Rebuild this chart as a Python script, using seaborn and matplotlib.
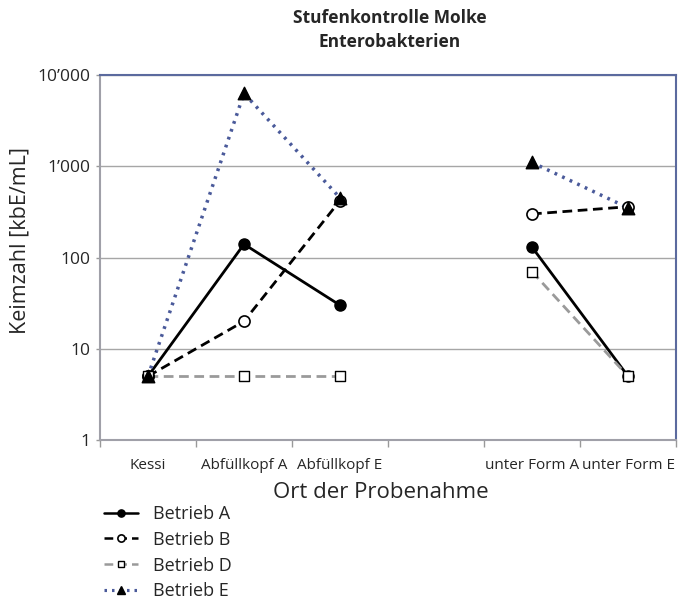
import numpy as np
import pandas as pd
import seaborn as sns
import matplotlib
matplotlib.use("Agg")
import matplotlib.pyplot as plt
from matplotlib.lines import Line2D
from matplotlib.ticker import FixedLocator, FixedFormatter, NullLocator

# Sampling points (slot 4 is an empty spacer between the two groups)
categories = ["Kessi", "Abfüllkopf A", "Abfüllkopf E", "", "unter Form A", "unter Form E"]

# Counts per sampling point (NaN = not sampled)
betrieb_a = [5, 140, 30, np.nan, 130, 5]
betrieb_b = [5, 20, 420, np.nan, 300, 360]
betrieb_d = [5, 5, 5, np.nan, 70, 5]
betrieb_e = [5, 6300, 450, np.nan, 1100, 350]

series_names = ["Betrieb A", "Betrieb B", "Betrieb D", "Betrieb E"]
series_values = [betrieb_a, betrieb_b, betrieb_d, betrieb_e]

y_ticks = [1, 10, 100, 1000, 10000]
y_tick_labels = ["1", "10", "100", "1\u2019000", "10\u2019000"]

# Line segments: the first three points and the last two are drawn separately
segment_of_slot = [0, 0, 0, 1, 1, 1]

rows = []
for name, vals in zip(series_names, series_values):
    for i, v in enumerate(vals):
        if not np.isnan(v):
            rows.append({"Betrieb": name, "pos": i, "value": v, "seg": segment_of_slot[i]})
df = pd.DataFrame(rows)

styles = {
    "Betrieb A": dict(color="black", ls="-", lw=2.0, marker="o", ms=8,
                      mfc="black", mec="black", mew=1.0),
    "Betrieb B": dict(color="black", ls=(0, (3.5, 2.0)), lw=2.0, marker="o", ms=8,
                      mfc="white", mec="black", mew=1.2),
    "Betrieb D": dict(color="#9a9a9a", ls=(0, (3.5, 2.0)), lw=2.0, marker="s", ms=7,
                      mfc="white", mec="black", mew=1.0),
    "Betrieb E": dict(color="#4a5a9a", ls=(0, (0.8, 1.6)), lw=2.5, marker="^", ms=9,
                      mfc="black", mec="black", mew=1.0),
}

sns.set_theme(style="white")
plt.rcParams["font.family"] = ["Open Sans", "DejaVu Sans"]

fig = plt.figure(figsize=(6.81, 6.02), dpi=100)
ax = fig.add_axes([100 / 681, 1 - 440 / 602, 576 / 681, 365 / 602])

for name in series_names:
    st = styles[name]
    sub = df[df["Betrieb"] == name]
    sns.lineplot(data=sub, x="pos", y="value", units="seg", estimator=None,
                 ax=ax, color=st["color"], linestyle=st["ls"], linewidth=st["lw"],
                 legend=False, zorder=2)
    sns.scatterplot(data=sub, x="pos", y="value", ax=ax, marker=st["marker"],
                    s=st["ms"] ** 2, color=st["mfc"], edgecolor=st["mec"],
                    linewidth=st["mew"], legend=False, zorder=3)

ax.set_yscale("log")
ax.set_ylim(1, 10000)
ax.set_xlim(-0.5, len(categories) - 0.5)

ax.yaxis.set_major_locator(FixedLocator(y_ticks))
ax.yaxis.set_major_formatter(FixedFormatter(y_tick_labels))
ax.yaxis.set_minor_locator(NullLocator())
ax.grid(axis="y", color="#a6a6a6", lw=1.0)
ax.set_axisbelow(True)

# Tick marks on category boundaries, labels centred on categories
ax.xaxis.set_major_locator(FixedLocator(np.arange(-0.5, len(categories), 1.0)))
ax.xaxis.set_major_formatter(FixedFormatter([""] * (len(categories) + 1)))
ax.xaxis.set_minor_locator(FixedLocator(np.arange(len(categories))))
ax.xaxis.set_minor_formatter(FixedFormatter(categories))
ax.tick_params(axis="x", which="major", length=5, width=1, color="#999999", direction="out", bottom=True)
ax.tick_params(axis="x", which="minor", length=0, labelsize=11, pad=13, bottom=True)
ax.tick_params(axis="y", which="major", length=3, width=1, color="#999999", labelsize=12.5, pad=4, left=True)

for side in ["left", "bottom"]:
    ax.spines[side].set_color("#a0a0a8")
    ax.spines[side].set_linewidth(1.5)
for side in ["top", "right"]:
    ax.spines[side].set_color("#5b6a9e")
    ax.spines[side].set_linewidth(1.5)

ax.set_xlabel("Ort der Probenahme", fontsize=16)
ax.xaxis.set_label_coords((381 - 100) / 576, -(492 - 440) / 365)
ax.xaxis.label.set_va("center")
ax.set_ylabel("Keimzahl [kbE/mL]", fontsize=15.5)
ax.yaxis.set_label_coords(-(100 - 20) / 576, (440 - 240) / 365)
ax.yaxis.label.set_va("center")

fig.text(390 / 681, 1 - 30 / 602, "Stufenkontrolle Molke\nEnterobakterien", ha="center",
         va="center", fontsize=12.5, fontweight="bold", linespacing=1.45)

handles = []
for name in series_names:
    st = styles[name]
    handles.append(Line2D([], [], color=st["color"], linestyle=st["ls"],
                          linewidth=st["lw"] * 0.9,
                          marker=st["marker"], markersize=st["ms"] * 0.65,
                          markerfacecolor=st["mfc"], markeredgecolor=st["mec"],
                          markeredgewidth=st["mew"]))
fig.legend(handles, series_names, loc="upper left", bbox_to_anchor=(104 / 681, 1 - 505 / 602),
           frameon=False, fontsize=13, handlelength=1.9, handletextpad=0.8,
           labelspacing=0.43, borderaxespad=0, borderpad=0)

fig.savefig("out.png", dpi=100)
